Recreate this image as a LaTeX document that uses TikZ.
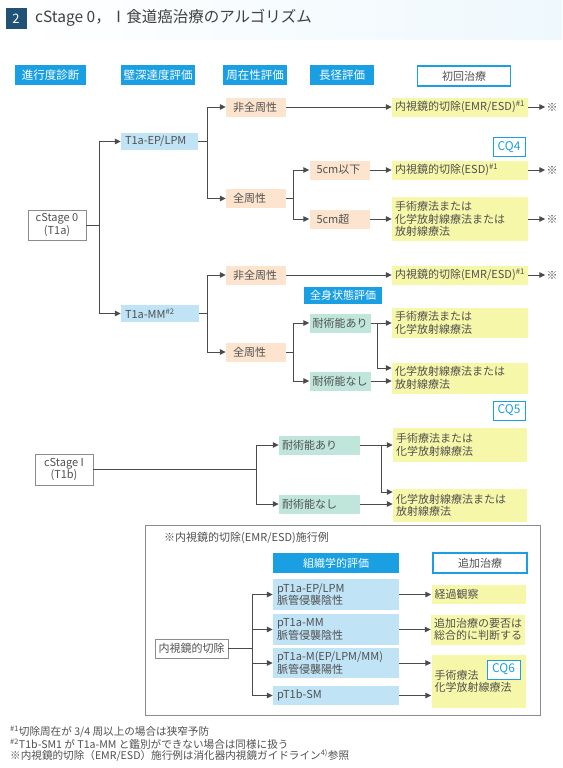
\documentclass[tikz,border=0pt]{standalone}
\usepackage{fontspec}
\newfontfamily\jpfont{Noto Sans CJK JP}
\usetikzlibrary{arrows.meta}
\definecolor{hdrblue}{RGB}{26,160,226}
\definecolor{boxblue}{RGB}{192,228,246}
\definecolor{boxpeach}{RGB}{252,228,206}
\definecolor{boxyellow}{RGB}{246,247,168}
\definecolor{boxmint}{RGB}{192,230,220}
\definecolor{inkgray}{RGB}{80,80,80}
\definecolor{linegray}{RGB}{75,75,75}
\definecolor{framegray}{RGB}{140,140,140}
\definecolor{titlenavy}{RGB}{32,82,118}
\tikzset{
  every node/.style={
    font=\jpfont\fontsize{11}{12.5}\selectfont,
    text=inkgray
  },
  header/.style={
    fill=hdrblue,
    text=white,
    inner sep=0pt,
    minimum height=20pt
  },
  openhead/.style={
    draw=hdrblue,
    line width=1.3pt,
    fill=white,
    inner sep=0pt,
    minimum height=20pt
  },
  stagebox/.style={
    draw=framegray,
    line width=0.9pt,
    fill=white,
    inner sep=0pt,
    align=center
  },
  depthbox/.style={
    fill=boxblue,
    inner xsep=4pt,
    inner ysep=0pt,
    align=left
  },
  circbox/.style={
    fill=boxpeach,
    inner xsep=7pt,
    inner ysep=0pt,
    minimum height=19pt,
    text width=46pt,
    align=left
  },
  opbox/.style={
    fill=boxmint,
    inner xsep=3pt,
    inner ysep=0pt,
    minimum height=19pt,
    text width=55pt,
    align=left
  },
  treatbox/.style={
    fill=boxyellow,
    inner xsep=3pt,
    inner ysep=0pt,
    align=left
  },
  cqbox/.style={
    draw=hdrblue,
    line width=1pt,
    fill=white,
    text=hdrblue,
    inner sep=0pt,
    minimum width=32pt,
    minimum height=19pt,
    font=\jpfont\fontsize{12}{12}\selectfont
  },
  refmark/.style={
    inner sep=1pt
  },
  footnote/.style={
    anchor=west,
    inner sep=0pt,
    font=\jpfont\fontsize{10.6}{11}\selectfont
  },
  link/.style={
    draw=linegray,
    line width=1pt
  },
  flow/.style={
    link,
    -{Triangle[length=6pt,width=5.5pt]}
  }
}

\begin{document}
\begin{tikzpicture}[x=1pt,y=-1pt]
  \useasboundingbox (0,0) rectangle (562,768);
  \fill[white] (0,0) rectangle (562,768);
  \shade[left color=white, right color=hdrblue!7] (0,0) rectangle (562,40);

  \node[fill=titlenavy, text=white, minimum size=21pt, inner sep=0pt, font=\jpfont\fontsize{13}{13}\selectfont] (num) at (16,18.5) {2};
  \node[anchor=west, inner sep=0pt, text=black!75, font=\jpfont\fontsize{15.5}{17}\selectfont] (title) at (35,18) {cStage 0，Ⅰ食道癌治療のアルゴリズム};

  \node[header, minimum width=71pt, font=\jpfont\fontsize{11.5}{12}\selectfont] (hstage) at (50.5,75) {進行度診断};
  \node[header, minimum width=74pt, font=\jpfont\fontsize{11.5}{12}\selectfont] (hdepth) at (158,75) {壁深達度評価};
  \node[header, minimum width=64pt, font=\jpfont\fontsize{11.5}{12}\selectfont] (hcirc) at (255,75) {周在性評価};
  \node[header, minimum width=64pt, font=\jpfont\fontsize{11.5}{12}\selectfont] (hsize) at (342,75) {長径評価};
  \node[openhead, minimum width=93pt] (hfirst) at (464,76) {初回治療};

  \node[stagebox, minimum width=58pt, minimum height=30pt] (st0) at (57,225) {cStage 0\\(T1a)};
  \node[depthbox, text width=69pt, minimum height=17pt] (ep) at (159.5,141.5) {T1a-EP/LPM};
  \node[depthbox, text width=70pt, minimum height=17pt] (mm) at (160,313.5) {T1a-MM\textsuperscript{\#2}};

  \node[circbox] (ep1) at (256,107) {非全周性};
  \node[circbox] (ep2) at (256,198.5) {全周性};
  \node[circbox] (small) at (339.5,170) {5cm以下};
  \node[circbox] (large) at (339.5,219) {5cm超};
  \node[circbox] (mm1) at (256,275) {非全周性};
  \node[circbox] (mm2) at (256,352) {全周性};

  \node[header, minimum width=78pt, minimum height=17pt] (hbody) at (343,295.5) {全身状態評価};
  \node[opbox] (mm2a) at (340,323) {耐術能あり};
  \node[opbox] (mm2b) at (340,381) {耐術能なし};

  \node[treatbox, text width=130pt, minimum height=19pt] (t1) at (460,107) {内視鏡的切除(EMR/ESD)\textsuperscript{\#1}};
  \node[treatbox, text width=130pt, minimum height=19pt] (t2) at (460,170) {内視鏡的切除(ESD)\textsuperscript{\#1}};
  \node[treatbox, text width=130pt, minimum height=44pt] (t3) at (460,219) {手術療法または\\化学放射線療法または\\放射線療法};
  \node[treatbox, text width=130pt, minimum height=19pt] (t4) at (460,275) {内視鏡的切除(EMR/ESD)\textsuperscript{\#1}};
  \node[treatbox, text width=130pt, minimum height=30pt] (t5) at (460,323) {手術療法または\\化学放射線療法};
  \node[treatbox, text width=130pt, minimum height=31pt] (t6) at (460,378) {化学放射線療法または\\放射線療法};

  \node[refmark] (x1) at (552,107) {※};
  \node[refmark] (x2) at (552,170) {※};
  \node[refmark] (x3) at (552,219) {※};
  \node[refmark] (x4) at (552,275) {※};
  \node[cqbox] (cq4) at (509,147) {CQ4};

  \node[stagebox, minimum width=58pt, minimum height=31pt] (st1) at (64,469.5) {cStage I\\(T1b)};
  \node[opbox, text width=75pt] (st1a) at (319.5,445) {耐術能あり};
  \node[opbox, text width=75pt] (st1b) at (319.5,504) {耐術能なし};
  \node[treatbox, text width=128pt, minimum height=34pt] (t7) at (460,445) {手術療法または\\化学放射線療法};
  \node[treatbox, text width=128pt, minimum height=33pt] (t8) at (460,505.5) {化学放射線療法または\\放射線療法};
  \node[cqbox] (cq5) at (509,410.5) {CQ5};

  \draw[link] (st0.east) -- ++(13,0) coordinate (j0);
  \draw[flow] (j0) |- (ep);
  \draw[flow] (j0) |- (mm);
  \draw[link] (ep.east) -- ++(9,0) coordinate (j1);
  \draw[flow] (j1) |- (ep1);
  \draw[flow] (j1) |- (ep2);
  \draw[flow] (ep1) -- (t1);
  \draw[link] (ep2.east) -- ++(7,0) coordinate (j2);
  \draw[flow] (j2) |- (small);
  \draw[flow] (j2) |- (large);
  \draw[flow] (small) -- (t2);
  \draw[flow] (large) -- (t3);
  \draw[link] (mm.east) -- ++(8,0) coordinate (j3);
  \draw[flow] (j3) |- (mm1);
  \draw[flow] (j3) |- (mm2);
  \draw[flow] (mm1) -- (t4);
  \draw[link] (mm2.east) -- ++(7,0) coordinate (j4);
  \draw[flow] (j4) |- (mm2a);
  \draw[flow] (j4) |- (mm2b);
  \draw[flow] (mm2a) -- (t5);
  \draw[link] (mm2a.east) -- ++(7,0) coordinate (j5);
  \draw[flow] (j5) |- ([yshift=10pt]t6.west);
  \draw[flow] (mm2b) -- (mm2b -| t6.west);
  \draw[flow] (t1) -- (x1);
  \draw[flow] (t2) -- (x2);
  \draw[flow] (t3) -- (x3);
  \draw[flow] (t4) -- (x4);

  \draw[link] (st1.east) -- ++(163,0) coordinate (j6);
  \draw[flow] (j6) |- (st1a);
  \draw[flow] (j6) |- (st1b);
  \draw[flow] (st1a) -- (t7);
  \draw[link] (st1a.east) -- ++(21,0) coordinate (j7);
  \draw[flow] (j7) |- ([yshift=13.5pt]t8.west);
  \draw[flow] (st1b) -- (st1b -| t8.west);

  \draw[framegray, line width=0.9pt] (145,525) rectangle (540,715);
  \node[anchor=west, inner sep=0pt] (excap) at (164,538) {※内視鏡的切除(EMR/ESD)施行例};
  \node[header, minimum width=126pt] (hhist) at (336,563) {組織学的評価};
  \node[openhead, minimum width=94pt] (hadd) at (480,563) {追加治療};
  \node[stagebox, minimum width=73pt, minimum height=19pt] (emr) at (191.5,648.5) {内視鏡的切除};
  \node[depthbox, text width=118pt, minimum height=31pt] (p1) at (336,594.5) {pT1a-EP/LPM\\脈管侵襲陰性};
  \node[depthbox, text width=118pt, minimum height=31pt] (p2) at (336,629.5) {pT1a-MM\\脈管侵襲陰性};
  \node[depthbox, text width=118pt, minimum height=30pt] (p3) at (336,663) {pT1a-M(EP/LPM/MM)\\脈管侵襲陽性};
  \node[depthbox, text width=118pt, minimum height=19pt] (p4) at (336,695.5) {pT1b-SM};
  \node[treatbox, text width=88pt, minimum height=19pt] (a1) at (478.5,594.5) {経過観察};
  \node[treatbox, text width=88pt, minimum height=30pt] (a2) at (478,629.5) {追加治療の要否は\\総合的に判断する};
  \node[treatbox, text width=88pt, minimum height=53pt] (a3) at (478.5,681.5) {手術療法\\化学放射線療法};
  \node[cqbox, minimum width=33pt] (cq6) at (503.5,669.5) {CQ6};

  \draw[link] (emr.east) -- ++(24,0) coordinate (j8);
  \draw[flow] (j8) |- (p1);
  \draw[flow] (j8) |- (p2);
  \draw[flow] (j8) |- (p3);
  \draw[flow] (j8) |- (p4);
  \draw[flow] (p1) -- (a1);
  \draw[flow] (p2) -- (a2);
  \draw[flow] (p3) -- (p3 -| a3.west);
  \draw[flow] (p4) -- (p4 -| a3.west);

  \node[footnote] (fn1) at (10,732) {\textsuperscript{\#1}切除周在が 3/4 周以上の場合は狭窄予防};
  \node[footnote] (fn2) at (10,744) {\textsuperscript{\#2}T1b-SM1 が T1a-MM と鑑別ができない場合は同様に扱う};
  \node[footnote] (fn3) at (10,755.5) {※内視鏡的切除（EMR/ESD）施行例は消化器内視鏡ガイドライン\textsuperscript{4)}参照};
\end{tikzpicture}
\end{document}
